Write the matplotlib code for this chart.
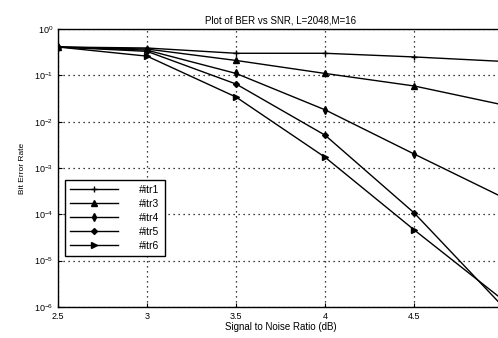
import numpy as np
import matplotlib.pyplot as plt
from matplotlib.ticker import LogLocator, NullLocator

# ----------------------------------------------------------------
#  DATA
# ----------------------------------------------------------------
snr = [2.5, 3.0, 3.5, 4.0, 4.5, 5.0]
ber_itr1 = [0.41, 0.39, 0.30, 0.30, 0.25, 0.20]
ber_itr3 = [0.41, 0.37, 0.21, 0.11, 0.059, 0.023]
ber_itr4 = [0.41, 0.35, 0.11, 0.018, 0.002, 2.3e-4]
ber_itr5 = [0.41, 0.33, 0.065, 0.0051, 1.07e-4, 1.0e-6]
ber_itr6 = [0.41, 0.26, 0.034, 0.0017, 4.6e-5, 1.4e-6]
labels = ['#itr1', '#itr3', '#itr4', '#itr5', '#itr6']
markers = ['+', '^', 'd', 'D', '>']
x_ticks = [2.5, 3, 3.5, 4, 4.5, 5]
x_ticklabels = ['2.5', '3', '3.5', '4', '4.5', '']

plt.rcParams['font.family'] = ['Liberation Sans', 'DejaVu Sans']

fig = plt.figure(figsize=(4.98, 3.38), dpi=100)
ax = fig.add_axes([0.1165, 0.092, 0.894, 0.822])

series = [ber_itr1, ber_itr3, ber_itr4, ber_itr5, ber_itr6]
sizes = [5, 4.5, 4, 3, 4.5]
for ber, lab, mk, ms in zip(series, labels, markers, sizes):
    ax.semilogy(snr, ber, color='k', linewidth=1.0, marker=mk,
                markersize=ms, markerfacecolor='k',
                markeredgecolor='k', label=lab)

ax.set_xlim(2.5, 5.0)
ax.set_ylim(1e-6, 1)
ax.set_xticks(x_ticks)
ax.set_xticklabels(x_ticklabels)
ax.yaxis.set_major_locator(LogLocator(base=10, numticks=10))
ax.yaxis.set_minor_locator(NullLocator())
ax.tick_params(direction='in', labelsize=6.5, length=3)
ax.grid(True, which='major', color='k', linestyle=(0, (1, 3)), linewidth=0.9)
for s in ax.spines.values():
    s.set_linewidth(1.0)

ax.set_title('Plot of BER vs SNR, L=2048,M=16', fontsize=7, pad=4)
ax.set_xlabel('Signal to Noise Ratio (dB)', fontsize=7, labelpad=1)
ax.set_ylabel('Bit Error Rate', fontsize=6, labelpad=6)

leg = ax.legend(loc='upper left', bbox_to_anchor=(0.016, 0.457), fontsize=7.5,
                frameon=True, fancybox=False, edgecolor='k', framealpha=1,
                handlelength=4.6, handletextpad=2.0, labelspacing=0.38,
                borderpad=0.5, borderaxespad=0)
leg.get_frame().set_linewidth(1.0)

plt.savefig('out.png', dpi=100)
